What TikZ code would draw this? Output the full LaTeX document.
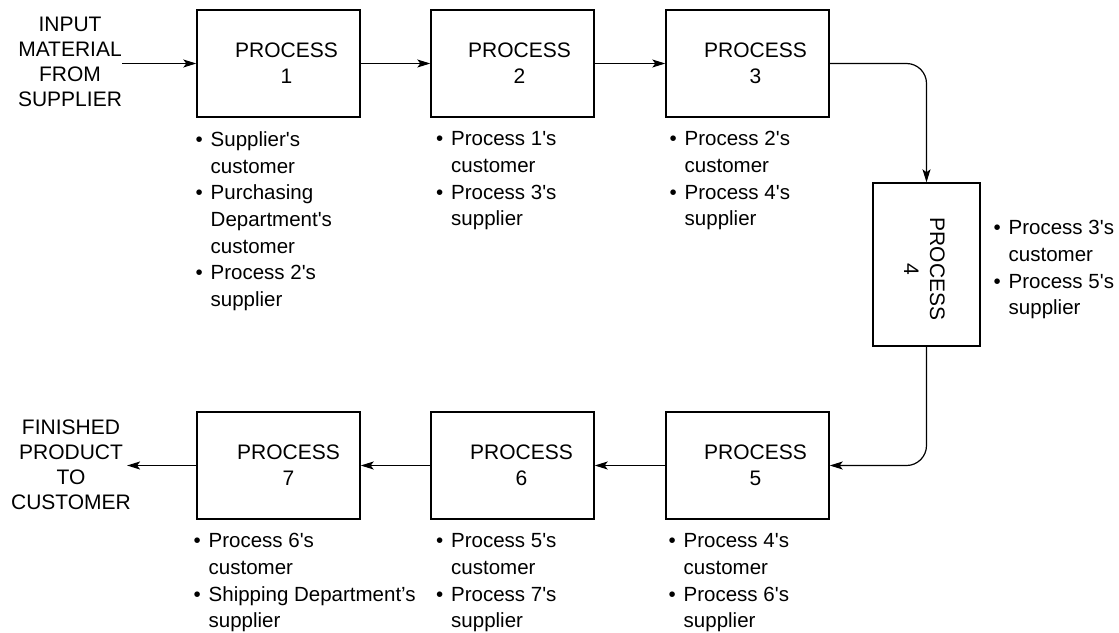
\documentclass[tikz,border=0pt]{standalone}
\usepackage{fontspec}
\newfontfamily\lab{Liberation Sans}
\usetikzlibrary{arrows.meta}
\newcommand\bl{\makebox[15pt][l]{•}}
\newcommand\ind{\hspace*{15pt}}
\begin{document}
\begin{tikzpicture}[x=1pt,y=-1pt,
  box/.style={draw, line width=1.4pt, minimum width=163pt, minimum height=107pt, inner sep=0pt},
  vbox/.style={draw, line width=1.4pt, minimum width=107pt, minimum height=163pt, inner sep=0pt},
  boxtext/.style={font=\lab\fontsize{21}{26}\selectfont, align=center, inner sep=0pt},
  endtext/.style={font=\lab\fontsize{21}{25}\selectfont, align=center, inner sep=0pt, anchor=north},
  notes/.style={font=\lab\fontsize{20.5}{26.7}\selectfont, align=left, inner sep=0pt, anchor=north west},
  arr/.style={line width=1.2pt, -{Stealth[length=13pt,width=8pt,inset=3pt]}},
]
\useasboundingbox[fill=white] (0,0) rectangle (1119,632);

% boxes
\node[box] (p1) at (278.5,63.5) {};
\node[box] (p2) at (512.5,63.5) {};
\node[box] (p3) at (747.5,63.5) {};
\node[vbox] (p4) at (926.5,264.5) {};
\node[box] (p5) at (747.5,465.5) {};
\node[box] (p6) at (512.5,465.5) {};
\node[box] (p7) at (278.5,465.5) {};

% box texts
\node[boxtext] (t1) at ([xshift=8pt]p1.center) {PROCESS\\1};
\node[boxtext] (t2) at ([xshift=7pt]p2.center) {PROCESS\\2};
\node[boxtext] (t3) at ([xshift=8pt]p3.center) {PROCESS\\3};
\node[boxtext, rotate=-90] (t4) at (924.5,269) {PROCESS\\4};
\node[boxtext] (t5) at ([xshift=8pt]p5.center) {PROCESS\\5};
\node[boxtext] (t6) at ([xshift=9pt]p6.center) {PROCESS\\6};
\node[boxtext] (t7) at ([xshift=10pt]p7.center) {PROCESS\\7};

% end texts
\node[endtext] (in) at (70,17) {INPUT\\MATERIAL\\FROM\\SUPPLIER};
\node[endtext] (out) at (71,420) {FINISHED\\PRODUCT\\TO\\CUSTOMER};

% notes
\node[notes] (n1) at (195.5,131.3) {\bl Supplier's\\\ind customer\\\bl Purchasing\\\ind Department's\\\ind customer\\\bl Process 2's\\\ind supplier};
\node[notes] (n2) at (436,131.3) {\bl Process 1's\\\ind customer\\\bl Process 3's\\\ind supplier};
\node[notes] (n3) at (669.5,131.3) {\bl Process 2's\\\ind customer\\\bl Process 4's\\\ind supplier};
\node[notes] (n4) at (993.5,220.3) {\bl Process 3's\\\ind customer\\\bl Process 5's\\\ind supplier};
\node[notes] (n5) at (668.5,533.3) {\bl Process 4's\\\ind customer\\\bl Process 6's\\\ind supplier};
\node[notes] (n6) at (436,533.3) {\bl Process 5's\\\ind customer\\\bl Process 7's\\\ind supplier};
\node[notes] (n7) at (193.5,533.3) {\bl Process 6's\\\ind customer\\\bl Shipping Department’s\\\ind supplier};

% connectors
\draw[arr] (in.east |- p1.west) -- (p1.west);
\draw[arr] (p1.east) -- (p2.west);
\draw[arr] (p2.east) -- (p3.west);
\draw[arr, rounded corners=20pt] (p3.east) -| (p4.north);
\draw[arr, rounded corners=20pt] (p4.south) |- (p5.east);
\draw[arr] (p5.west) -- (p6.east);
\draw[arr] (p6.west) -- (p7.east);
\draw[arr] (p7.west) -- ([xshift=-4pt]out.east |- p7.west);
\end{tikzpicture}
\end{document}
